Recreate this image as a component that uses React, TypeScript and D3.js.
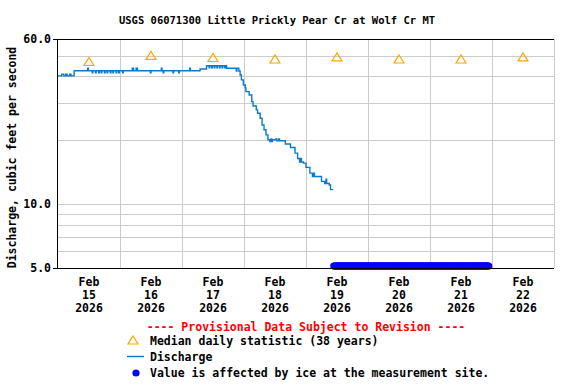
import * as d3 from 'd3';
import React from 'react';

const title = 'USGS 06071300 Little Prickly Pear Cr at Wolf Cr MT';
const yAxisTitle = 'Discharge, cubic feet per second';

// 15-minute discharge (cfs)
const dischargeTimes = [
  '2026-02-15 00:00', '2026-02-15 01:30', '2026-02-15 02:15', '2026-02-15 03:00', '2026-02-15 03:30',
  '2026-02-15 04:30', '2026-02-15 05:00', '2026-02-15 06:15', '2026-02-15 11:30', '2026-02-15 11:45',
  '2026-02-15 13:15', '2026-02-15 13:30', '2026-02-15 14:30', '2026-02-15 14:45', '2026-02-15 15:45',
  '2026-02-15 16:00', '2026-02-15 16:45', '2026-02-15 17:00', '2026-02-15 18:00', '2026-02-15 18:15',
  '2026-02-15 19:00', '2026-02-15 19:15', '2026-02-15 20:15', '2026-02-15 20:30', '2026-02-15 21:15',
  '2026-02-15 21:30', '2026-02-15 22:30', '2026-02-15 22:45', '2026-02-15 23:30', '2026-02-15 23:45',
  '2026-02-16 01:00', '2026-02-16 01:15', '2026-02-16 04:45', '2026-02-16 05:15', '2026-02-16 06:15',
  '2026-02-16 06:45', '2026-02-16 11:45', '2026-02-16 12:00', '2026-02-16 16:00', '2026-02-16 16:15',
  '2026-02-16 16:45', '2026-02-16 17:00', '2026-02-16 20:30', '2026-02-16 20:45', '2026-02-16 22:45',
  '2026-02-16 23:00', '2026-02-17 03:00', '2026-02-17 03:15', '2026-02-17 07:00', '2026-02-17 09:30',
  '2026-02-17 10:30', '2026-02-17 10:45', '2026-02-17 11:30', '2026-02-17 11:45', '2026-02-17 12:30',
  '2026-02-17 12:45', '2026-02-17 13:30', '2026-02-17 13:45', '2026-02-17 14:30', '2026-02-17 14:45',
  '2026-02-17 15:30', '2026-02-17 15:45', '2026-02-17 16:30', '2026-02-17 16:45', '2026-02-17 17:15',
  '2026-02-17 21:00', '2026-02-17 21:15', '2026-02-17 22:00', '2026-02-17 22:30', '2026-02-17 23:00',
  '2026-02-17 23:45', '2026-02-18 00:30', '2026-02-18 00:45', '2026-02-18 02:00', '2026-02-18 03:00',
  '2026-02-18 03:30', '2026-02-18 04:45', '2026-02-18 05:15', '2026-02-18 06:15', '2026-02-18 07:00',
  '2026-02-18 07:45', '2026-02-18 08:30', '2026-02-18 09:15', '2026-02-18 10:00', '2026-02-18 10:30',
  '2026-02-18 10:45', '2026-02-18 11:00', '2026-02-18 12:15', '2026-02-18 12:45', '2026-02-18 13:30',
  '2026-02-18 13:45', '2026-02-18 16:00', '2026-02-18 18:00', '2026-02-18 19:45', '2026-02-18 20:45',
  '2026-02-18 21:30', '2026-02-18 22:00', '2026-02-18 22:15', '2026-02-18 23:00', '2026-02-19 00:00',
  '2026-02-19 01:30', '2026-02-19 02:30', '2026-02-19 03:00', '2026-02-19 03:15', '2026-02-19 06:00',
  '2026-02-19 07:15', '2026-02-19 07:45', '2026-02-19 08:00', '2026-02-19 09:00', '2026-02-19 09:30',
  '2026-02-19 10:30',
];
const dischargeValues = [
  40.2, 41.0, 40.2, 41.0, 40.2,
  41.0, 40.2, 42.5, 43.7, 42.5,
  41.6, 42.5, 41.6, 42.5, 41.6,
  42.5, 41.6, 42.5, 41.6, 42.5,
  41.6, 42.5, 41.6, 42.5, 41.6,
  42.5, 41.6, 42.5, 41.6, 42.5,
  41.6, 42.5, 43.7, 42.5, 43.7,
  42.5, 41.6, 42.5, 43.7, 42.5,
  41.6, 42.5, 41.6, 42.5, 41.6,
  42.5, 43.7, 42.5, 43.3, 44.9,
  43.9, 44.9, 43.9, 44.9, 43.9,
  44.9, 43.9, 44.9, 43.9, 44.9,
  43.9, 44.9, 43.9, 44.9, 43.7,
  42.4, 43.7, 42.4, 40.6, 38.5,
  36.4, 35.3, 33.9, 32.7, 30.4,
  29.0, 27.8, 26.8, 25.4, 23.6,
  22.4, 21.2, 20.1, 19.7, 20.3,
  19.7, 20.1, 20.3, 19.9, 20.3,
  19.9, 19.2, 18.5, 17.4, 16.4,
  15.8, 16.4, 15.8, 15.6, 14.9,
  14.0, 13.5, 14.0, 13.5, 12.8,
  12.5, 13.1, 12.5, 12.3, 11.7,
  11.7,
];

// median daily statistic (38 years), plotted at noon
const medianDays = ['2026-02-15', '2026-02-16', '2026-02-17', '2026-02-18', '2026-02-19', '2026-02-20', '2026-02-21', '2026-02-22'];
const medianValues = [47.0, 50.2, 49.1, 48.3, 49.4, 48.3, 48.3, 49.4];

// period flagged as ice-affected (15-minute values)
const iceStart = '2026-02-19 10:45';
const iceEnd = '2026-02-21 22:45';

const yDomain = [5, 60];
const yLabelTicks = [60, 10, 5];
const yGridTicks = [50, 40, 30, 20, 9, 8, 7, 6];
const xStart = '2026-02-15 00:00';
const xEnd = '2026-02-23 00:00';

const legendItems = [
  'Median daily statistic (38 years)',
  'Discharge',
  'Value is affected by ice at the measurement site.',
];

const W = 576;
const H = 384;
const margin = { top: 39, right: 22, bottom: 116, left: 58 };
const FONT = '"DejaVu Sans Mono", "Liberation Mono", monospace';
const LINE_BLUE = '#0a7acc';
const ORANGE = '#ffa500';
const GRID = '#cccccc';

const parse = d3.timeParse('%Y-%m-%d %H:%M');

export default function App() {
  const x = d3
    .scaleTime()
    .domain([parse(xStart)!, parse(xEnd)!])
    .range([margin.left, W - margin.right]);

  const y = d3
    .scaleLog()
    .domain(yDomain)
    .range([H - margin.bottom, margin.top]);

  const discharge = dischargeTimes.map((t, i) => ({ t: parse(t)!, v: dischargeValues[i] }));
  const line = d3
    .line<{ t: Date; v: number }>()
    .x(d => x(d.t))
    .y(d => y(d.v))
    .curve(d3.curveStepAfter);

  const medians = medianDays.map((d, i) => ({ t: parse(d + ' 12:00')!, v: medianValues[i] }));
  const iceTimes = d3.timeMinute.every(15)!.range(parse(iceStart)!, d3.timeMinute.offset(parse(iceEnd)!, 1));
  const dayTicks = d3.timeDay.range(parse(xStart)!, parse(xEnd)!);
  const midnights = d3.timeDay.range(d3.timeDay.offset(parse(xStart)!, 1), d3.timeDay.offset(parse(xEnd)!, 1));

  const x0 = margin.left;
  const x1 = W - margin.right;
  const yTop = margin.top;
  const yBot = H - margin.bottom;
  const triangle = (cx: number, cy: number, s = 5) =>
    `M${cx},${cy - s + 1}L${cx + s},${cy + 4}L${cx - s},${cy + 4}Z`;

  const fmtMon = d3.timeFormat('%b');
  const fmtDay = d3.timeFormat('%d');
  const fmtYear = d3.timeFormat('%Y');

  return (
    <svg
      width={W}
      height={H}
      style={{ position: 'absolute', left: 0, top: 0, background: '#fff' }}
      fontFamily={FONT}
      fontWeight="bold"
    >
      <text x={277} y={24} textAnchor="middle" fontSize={10.5}>{title}</text>

      {/* horizontal grid */}
      {yGridTicks.concat([10]).map(v => (
        <line key={'h' + v} x1={x0} x2={x1} y1={Math.round(y(v)) + 0.5} y2={Math.round(y(v)) + 0.5} stroke={GRID} />
      ))}
      {/* vertical grid at midnight */}
      {midnights.map(d => (
        <line key={'v' + d.getTime()} x1={Math.round(x(d)) + 0.5} x2={Math.round(x(d)) + 0.5} y1={yTop} y2={yBot} stroke={GRID} />
      ))}

      {/* median triangles */}
      {medians.map(d => (
        <path key={'m' + d.t.getTime()} d={triangle(x(d.t), y(d.v))} fill="none" stroke={ORANGE} strokeWidth={1.2} />
      ))}

      {/* discharge */}
      <path d={line(discharge) || ''} fill="none" stroke={LINE_BLUE} strokeWidth={1.4} />

      {/* ice-affected flags */}
      {iceTimes.map(t => (
        <circle key={'i' + t.getTime()} cx={x(t)} cy={y(yDomain[0]) - 2} r={3.6} fill="#0000ff" />
      ))}

      {/* axes frame */}
      <line x1={x0 - 0.5} x2={x0 - 0.5} y1={yTop} y2={yBot} stroke="#000" />
      <line x1={x0 - 5} x2={x1} y1={yTop + 0.5} y2={yTop + 0.5} stroke="#000" />
      <line x1={x0 - 5} x2={x1} y1={yBot + 0.5} y2={yBot + 0.5} stroke="#000" />

      {yLabelTicks.map(v => (
        <text key={'yl' + v} x={x0 - 7} y={y(v) + 4} textAnchor="end" fontSize={11.5}>
          {d3.format('.1f')(v)}
        </text>
      ))}

      <text
        transform={`translate(16,${(yTop + yBot) / 2 + 4}) rotate(-90)`}
        textAnchor="middle"
        fontSize={11.5}
      >
        {yAxisTitle}
      </text>

      {dayTicks.map(d => {
        const cx = x(d3.timeHour.offset(d, 12));
        return (
          <text key={'xl' + d.getTime()} x={cx} textAnchor="middle" fontSize={11.5}>
            <tspan x={cx} y={yBot + 18}>{fmtMon(d)}</tspan>
            <tspan x={cx} y={yBot + 31}>{fmtDay(d)}</tspan>
            <tspan x={cx} y={yBot + 44}>{fmtYear(d)}</tspan>
          </text>
        );
      })}

      {/* legend */}
      <text x={(x0 + x1) / 2} y={331} textAnchor="middle" fontSize={11.5} fill="#ff0000">
        ---- Provisional Data Subject to Revision ----
      </text>
      <path d={triangle(133, 340)} fill="none" stroke={ORANGE} strokeWidth={1.2} />
      <text x={150} y={345} fontSize={11.5}>{legendItems[0]}</text>
      <line x1={127} x2={144} y1={356.5} y2={356.5} stroke={LINE_BLUE} strokeWidth={1.4} />
      <text x={150} y={361} fontSize={11.5}>{legendItems[1]}</text>
      <circle cx={136} cy={373} r={3.6} fill="#0000ff" />
      <text x={150} y={377} fontSize={11.5}>{legendItems[2]}</text>
    </svg>
  );
}
